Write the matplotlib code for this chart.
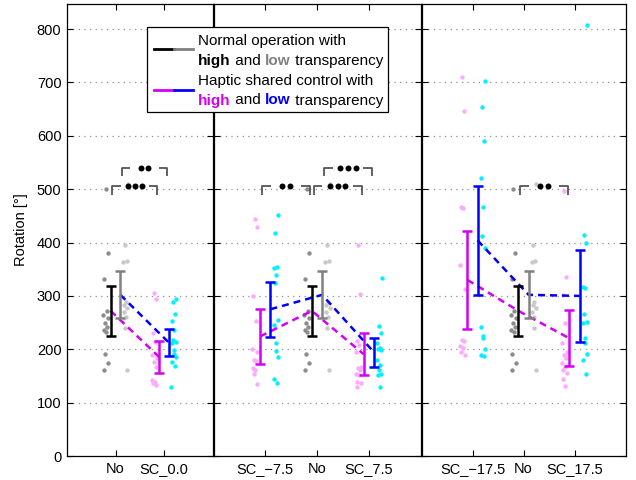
import matplotlib
matplotlib.use('Agg')
import matplotlib.pyplot as plt
import matplotlib.text as mtext
from matplotlib.patches import Rectangle
from matplotlib.lines import Line2D

plt.rcParams['font.family'] = ['Liberation Sans', 'DejaVu Sans']
plt.rcParams['font.size'] = 10.5

# ---------------- data ----------------
panel_labels = [['No', 'SC_0.0'],
                ['SC_\u22127.5', 'No', 'SC_7.5'],
                ['SC_\u221217.5', 'No', 'SC_17.5']]
panel_keys = [['No', 'SC0'], ['SCm7.5', 'No', 'SC7.5'], ['SCm17.5', 'No', 'SC17.5']]

# individual trials, high transparency
pts_high = {
    'No':      [501, 380, 331, 272, 265, 258, 250, 242, 236, 232, 191, 175, 162],
    'SC0':     [305, 295, 230, 214, 189, 183, 177, 167, 142, 139, 137, 133],
    'SCm7.5':  [444, 430, 300, 253, 200, 195, 180, 178, 164, 161, 153, 135],
    'SC7.5':   [395, 303, 216, 208, 195, 167, 164, 161, 154, 152, 139, 136, 130],
    'SCm17.5': [710, 647, 466, 464, 358, 313, 217, 215, 206, 203, 194, 189],
    'SC17.5':  [497, 336, 302, 249, 212, 195, 189, 183, 174, 167, 162, 155, 144, 132],
}
# individual trials, low transparency
pts_low = {
    'No':      [510, 395, 366, 363, 289, 283, 277, 270, 261, 239, 161],
    'SC0':     [295, 289, 267, 253, 236, 217, 214, 211, 199, 191, 185, 177, 169, 130],
    'SCm7.5':  [451, 418, 355, 353, 339, 325, 255, 245, 212, 197, 185, 145, 137],
    'SC7.5':   [334, 244, 230, 211, 203, 201, 199, 180, 170, 162, 153, 151, 130],
    'SCm17.5': [703, 654, 590, 521, 467, 413, 389, 241, 224, 221, 200, 189, 188],
    'SC17.5':  [808, 414, 400, 317, 314, 266, 251, 249, 221, 211, 191, 180, 153],
}
mean_high = {'No': 272, 'SC0': 185.5, 'SCm7.5': 224, 'SC7.5': 191, 'SCm17.5': 330, 'SC17.5': 220.5}
err_high = {'No': 47, 'SC0': 30.5, 'SCm7.5': 52, 'SC7.5': 39, 'SCm17.5': 92, 'SC17.5': 52.5}
mean_low = {'No': 302, 'SC0': 212.5, 'SCm7.5': 275, 'SC7.5': 194.5, 'SCm17.5': 404, 'SC17.5': 300}
err_low = {'No': 44, 'SC0': 25.5, 'SCm7.5': 51.5, 'SC7.5': 27.5, 'SCm17.5': 102, 'SC17.5': 86.5}

# significance: (panel, cond a, cond b, transparency, number of dots)
sig = [
    (0, 'No', 'SC0', 'high', 3),
    (0, 'No', 'SC0', 'low', 2),
    (1, 'SCm7.5', 'No', 'high', 2),
    (1, 'No', 'SC7.5', 'high', 3),
    (1, 'No', 'SC7.5', 'low', 3),
    (2, 'No', 'SC17.5', 'high', 2),
]

# ---------------- style ----------------
C_BLACK = '#000000'
C_GRAY = '#808080'
C_MAG = '#d200f5'
C_BLUE = '#0000ff'
P_DARK = '#8c8c8c'
P_LIGHT = '#c8c8c8'
P_PINK = '#ffa8ff'
P_CYAN = '#00f0ff'
jitter = [0.0, 0.04, -0.03, 0.02, -0.05, 0.05, -0.01, 0.03, -0.04, 0.01,
          -0.02, 0.045, -0.035, 0.015]

W, H = 636, 480
fig = plt.figure(figsize=(W / 100, H / 100), dpi=100)

def fx(x):
    return x / W

def fy(y):
    return 1 - y / H

panels_px = [(67, 212.5), (213.5, 420.5), (421.5, 625.5)]
top_px, bot_px = 4, 456
YMAX = 847

axes = []
for i, (l, r) in enumerate(panels_px):
    ax = fig.add_axes([fx(l), fy(bot_px), (r - l) / W, (bot_px - top_px) / H])
    axes.append(ax)
    keys = panel_keys[i]
    n = len(keys)
    ax.set_xlim(0, n + 1)
    ax.set_ylim(0, YMAX)
    ax.set_xticks(range(1, n + 1))
    ax.set_xticklabels(panel_labels[i])
    ax.set_yticks(range(0, 801, 100))
    if i > 0:
        ax.set_yticklabels([])
    ax.tick_params(direction='in', top=True, right=True, length=4, width=0.8,
                   labelsize=10.5, pad=4)
    for s in ax.spines.values():
        s.set_linewidth(0.9)
    for yv in range(100, 801, 100):
        ax.axhline(yv, color='#909090', lw=0.9, ls=(0, (1, 3.5)), zorder=0)

    hx, lx = [], []
    for j, k in enumerate(keys):
        xc = j + 1
        is_no = (k == 'No')
        c_hp = P_DARK if is_no else P_PINK
        c_lp = P_LIGHT if is_no else P_CYAN
        vh = pts_high[k]
        vl = pts_low[k]
        ax.scatter([xc - 0.2 + jitter[m % len(jitter)] for m in range(len(vh))], vh,
                   s=10, color=c_hp, linewidths=0, zorder=2)
        ax.scatter([xc + 0.2 + jitter[(m + 5) % len(jitter)] for m in range(len(vl))], vl,
                   s=10, color=c_lp, linewidths=0, zorder=2)
        hx.append(xc - 0.1)
        lx.append(xc + 0.1)
    hm = [mean_high[k] for k in keys]
    lm = [mean_low[k] for k in keys]
    ax.plot(hx, hm, color=C_MAG, lw=1.8, dashes=(2.8, 2.0), zorder=3)
    ax.plot(lx, lm, color=C_BLUE, lw=1.8, dashes=(2.8, 2.0), zorder=3)
    for j, k in enumerate(keys):
        xc = j + 1
        is_no = (k == 'No')
        ch = C_BLACK if is_no else C_MAG
        cl = C_GRAY if is_no else C_BLUE
        ax.errorbar([xc - 0.1], [mean_high[k]], yerr=[err_high[k]], fmt='none',
                    ecolor=ch, elinewidth=1.8, capsize=3.6, capthick=1.8, zorder=4)
        ax.errorbar([xc + 0.1], [mean_low[k]], yerr=[err_low[k]], fmt='none',
                    ecolor=cl, elinewidth=1.8, capsize=3.6, capthick=1.8, zorder=4)

axes[0].set_ylabel('Rotation [\u00b0]', fontsize=10.5, labelpad=6)

# significance brackets
for (p, a, b, tr, nd) in sig:
    ax = axes[p]
    keys = panel_keys[p]
    off = -0.1 if tr == 'high' else 0.1
    x1 = keys.index(a) + 1 + off + 0.035
    x2 = keys.index(b) + 1 + off - 0.035
    yb = 506 if tr == 'high' else 540
    drop = 16
    seg = 0.17
    ax.plot([x1, x1, x1 + seg], [yb - drop, yb, yb], color='#555555', lw=1.3,
            zorder=5, solid_capstyle='butt')
    ax.plot([x2 - seg, x2, x2], [yb, yb, yb - drop], color='#555555', lw=1.3,
            zorder=5, solid_capstyle='butt')
    xm = (x1 + x2) / 2
    sp = 0.15
    dx = [xm + (m - (nd - 1) / 2) * sp for m in range(nd)]
    ax.plot(dx, [yb] * nd, 'o', color='black', ms=4.3, mew=0, zorder=6)

# legend (figure-level)
lg_l, lg_r, lg_t, lg_b = 147.3, 388, 26.7, 111.7
fig.add_artist(Rectangle((fx(lg_l), fy(lg_b)), (lg_r - lg_l) / W, (lg_b - lg_t) / H,
                         transform=fig.transFigure, facecolor='white',
                         edgecolor='black', lw=0.9, zorder=10))
for (yy, c1, c2) in [(49.3, C_BLACK, C_GRAY), (90, C_MAG, C_BLUE)]:
    fig.add_artist(Line2D([fx(154), fx(173.5)], [fy(yy), fy(yy)], color=c1, lw=2,
                          transform=fig.transFigure, zorder=11))
    fig.add_artist(Line2D([fx(173.5), fx(193)], [fy(yy), fy(yy)], color=c2, lw=2,
                          transform=fig.transFigure, zorder=11))

tx = fx(198.3)
LFS = 11

def chain(y, parts):
    prev = fig.text(tx, fy(y), parts[0][0], color=parts[0][1], fontweight=parts[0][2],
                    fontsize=LFS, ha='left', va='bottom', zorder=12)
    for (s, c, w) in parts[1:]:
        a = mtext.Annotation(s, xy=(1, 0), xycoords=prev, color=c, fontweight=w,
                             fontsize=LFS, ha='left', va='bottom', zorder=12)
        fig.add_artist(a)
        prev = a

chain(48, [('Normal operation with', 'black', 'normal')])
chain(68, [('high', 'black', 'bold'), (' and ', 'black', 'normal'),
           ('low', C_GRAY, 'bold'), (' transparency', 'black', 'normal')])
chain(88, [('Haptic shared control with', 'black', 'normal')])
chain(107.5, [('high', C_MAG, 'bold'), (' and ', 'black', 'normal'),
              ('low', C_BLUE, 'bold'), (' transparency', 'black', 'normal')])

fig.savefig('out.png', dpi=100)
